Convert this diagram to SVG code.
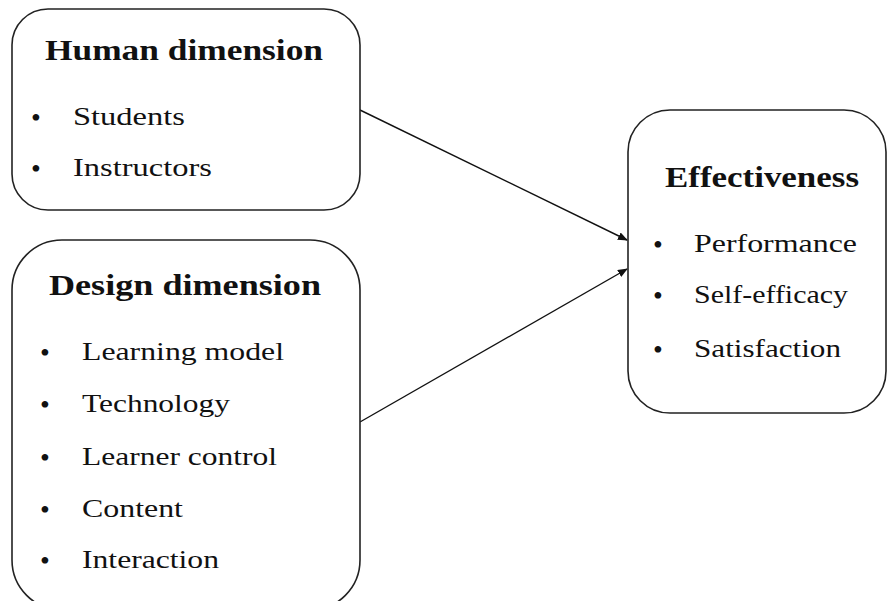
<svg xmlns="http://www.w3.org/2000/svg" width="888" height="601" viewBox="0 0 888 601">
<style>
.box{fill:#fff;stroke:#222;stroke-width:1.6}
.t{font-family:"Liberation Serif","DejaVu Serif",serif;fill:#111}
.h{font-size:30px;font-weight:bold}
.i{font-size:26px}
.b{font-size:28px}
.c{stroke:#111;stroke-width:1.4;fill:none}
</style>
<defs>
<marker id="ah" markerWidth="10" markerHeight="8" refX="9" refY="4" orient="auto" markerUnits="userSpaceOnUse">
<path d="M0,0 L10,4 L0,8 Z" fill="#111"/>
</marker>
</defs>
<rect width="888" height="601" fill="#fff"/>
<g id="connectors">
<line class="c" x1="360" y1="110" x2="627" y2="240" marker-end="url(#ah)"/>
<line class="c" x1="360" y1="422" x2="627" y2="269" marker-end="url(#ah)"/>
</g>
<g id="human">
<rect class="box" x="12" y="9" width="348" height="201" rx="36" ry="36"/>
<text class="t h" x="45" y="60" textLength="278" lengthAdjust="spacingAndGlyphs">Human dimension</text>
<text class="t b" x="31" y="127">•</text>
<text class="t i" x="73" y="125" textLength="112" lengthAdjust="spacingAndGlyphs">Students</text>
<text class="t b" x="31" y="178">•</text>
<text class="t i" x="73" y="176" textLength="139" lengthAdjust="spacingAndGlyphs">Instructors</text>
</g>
<g id="design">
<rect class="box" x="12" y="240" width="348" height="370" rx="50" ry="50"/>
<text class="t h" x="49" y="295" textLength="272" lengthAdjust="spacingAndGlyphs">Design dimension</text>
<text class="t b" x="40" y="362">•</text>
<text class="t i" x="82" y="360" textLength="202" lengthAdjust="spacingAndGlyphs">Learning model</text>
<text class="t b" x="40" y="414">•</text>
<text class="t i" x="82" y="412" textLength="148" lengthAdjust="spacingAndGlyphs">Technology</text>
<text class="t b" x="40" y="467">•</text>
<text class="t i" x="82" y="465" textLength="195" lengthAdjust="spacingAndGlyphs">Learner control</text>
<text class="t b" x="40" y="519">•</text>
<text class="t i" x="82" y="517" textLength="101" lengthAdjust="spacingAndGlyphs">Content</text>
<text class="t b" x="40" y="570">•</text>
<text class="t i" x="82" y="568" textLength="137" lengthAdjust="spacingAndGlyphs">Interaction</text>
</g>
<g id="effectiveness">
<rect class="box" x="628" y="110" width="258" height="303" rx="42" ry="42"/>
<text class="t h" x="665" y="187" textLength="194" lengthAdjust="spacingAndGlyphs">Effectiveness</text>
<text class="t b" x="653" y="254">•</text>
<text class="t i" x="694" y="252" textLength="163" lengthAdjust="spacingAndGlyphs">Performance</text>
<text class="t b" x="653" y="305">•</text>
<text class="t i" x="694" y="303" textLength="154" lengthAdjust="spacingAndGlyphs">Self-efficacy</text>
<text class="t b" x="653" y="359">•</text>
<text class="t i" x="694" y="357" textLength="147" lengthAdjust="spacingAndGlyphs">Satisfaction</text>
</g>
</svg>
